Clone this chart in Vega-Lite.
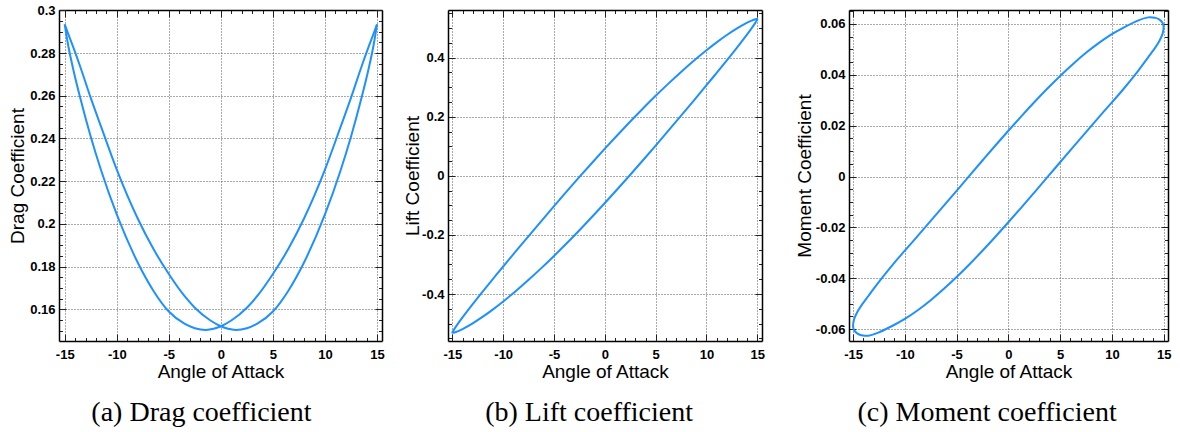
{
  "$schema": "https://vega.github.io/schema/vega-lite/v6.json",
  "background": "white",
  "padding": {"left": 8, "top": 4, "right": 4, "bottom": 4},
  "config": {
    "view": {"stroke": null},
    "font": "Liberation Sans",
    "axis": {
      "labelFont": "Liberation Sans", "labelFontSize": 13, "labelFontWeight": "bold", "labelColor": "black",
      "titleFont": "Liberation Sans", "titleFontSize": 19, "titleFontWeight": "normal", "titleColor": "black",
      "domainColor": "black", "domainWidth": 1.5, "tickColor": "#222", "tickWidth": 1,
      "gridColor": "#555", "gridDash": [1, 2], "gridWidth": 1,
      "labelFlush": false, "labelOverlap": false, "labelBound": false
    },
    "title": {"font": "Liberation Serif", "fontSize": 28, "fontWeight": "normal", "color": "black"}
  },
  "datasets": {
    "drag": [
      {"branch": "A", "i": 0, "aoa": -15.0, "cd": 0.2935},
      {"branch": "A", "i": 1, "aoa": -14.7, "cd": 0.2845},
      {"branch": "A", "i": 2, "aoa": -14.2, "cd": 0.2728},
      {"branch": "A", "i": 3, "aoa": -13.5, "cd": 0.2588},
      {"branch": "A", "i": 4, "aoa": -12.5, "cd": 0.2408},
      {"branch": "A", "i": 5, "aoa": -11.5, "cd": 0.225},
      {"branch": "A", "i": 6, "aoa": -10.0, "cd": 0.2044},
      {"branch": "A", "i": 7, "aoa": -8.0, "cd": 0.182},
      {"branch": "A", "i": 8, "aoa": -6.5, "cd": 0.1688},
      {"branch": "A", "i": 9, "aoa": -5.0, "cd": 0.1589},
      {"branch": "A", "i": 10, "aoa": -3.5, "cd": 0.1532},
      {"branch": "A", "i": 11, "aoa": -2.5, "cd": 0.1511},
      {"branch": "A", "i": 12, "aoa": -1.44, "cd": 0.1503},
      {"branch": "A", "i": 13, "aoa": -0.7, "cd": 0.1508},
      {"branch": "A", "i": 14, "aoa": 0.0, "cd": 0.152},
      {"branch": "A", "i": 15, "aoa": 1.0, "cd": 0.1547},
      {"branch": "A", "i": 16, "aoa": 2.5, "cd": 0.1607},
      {"branch": "A", "i": 17, "aoa": 3.5, "cd": 0.1662},
      {"branch": "A", "i": 18, "aoa": 5.0, "cd": 0.1765},
      {"branch": "A", "i": 19, "aoa": 6.5, "cd": 0.1884},
      {"branch": "A", "i": 20, "aoa": 8.0, "cd": 0.2026},
      {"branch": "A", "i": 21, "aoa": 10.0, "cd": 0.2254},
      {"branch": "A", "i": 22, "aoa": 11.5, "cd": 0.2454},
      {"branch": "A", "i": 23, "aoa": 12.5, "cd": 0.259},
      {"branch": "A", "i": 24, "aoa": 13.5, "cd": 0.2735},
      {"branch": "A", "i": 25, "aoa": 14.2, "cd": 0.283},
      {"branch": "A", "i": 26, "aoa": 14.7, "cd": 0.2895},
      {"branch": "A", "i": 27, "aoa": 15.0, "cd": 0.2935},
      {"branch": "B", "i": 0, "aoa": -15.0, "cd": 0.2935},
      {"branch": "B", "i": 1, "aoa": -14.7, "cd": 0.2895},
      {"branch": "B", "i": 2, "aoa": -14.2, "cd": 0.283},
      {"branch": "B", "i": 3, "aoa": -13.5, "cd": 0.2735},
      {"branch": "B", "i": 4, "aoa": -12.5, "cd": 0.259},
      {"branch": "B", "i": 5, "aoa": -11.5, "cd": 0.2454},
      {"branch": "B", "i": 6, "aoa": -10.0, "cd": 0.2254},
      {"branch": "B", "i": 7, "aoa": -8.0, "cd": 0.2026},
      {"branch": "B", "i": 8, "aoa": -6.5, "cd": 0.1884},
      {"branch": "B", "i": 9, "aoa": -5.0, "cd": 0.1765},
      {"branch": "B", "i": 10, "aoa": -3.5, "cd": 0.1662},
      {"branch": "B", "i": 11, "aoa": -2.5, "cd": 0.1607},
      {"branch": "B", "i": 12, "aoa": -1.0, "cd": 0.1547},
      {"branch": "B", "i": 13, "aoa": 0.0, "cd": 0.152},
      {"branch": "B", "i": 14, "aoa": 0.7, "cd": 0.1508},
      {"branch": "B", "i": 15, "aoa": 1.44, "cd": 0.1503},
      {"branch": "B", "i": 16, "aoa": 2.5, "cd": 0.1511},
      {"branch": "B", "i": 17, "aoa": 3.5, "cd": 0.1532},
      {"branch": "B", "i": 18, "aoa": 5.0, "cd": 0.1589},
      {"branch": "B", "i": 19, "aoa": 6.5, "cd": 0.1688},
      {"branch": "B", "i": 20, "aoa": 8.0, "cd": 0.182},
      {"branch": "B", "i": 21, "aoa": 10.0, "cd": 0.2044},
      {"branch": "B", "i": 22, "aoa": 11.5, "cd": 0.225},
      {"branch": "B", "i": 23, "aoa": 12.5, "cd": 0.2408},
      {"branch": "B", "i": 24, "aoa": 13.5, "cd": 0.2588},
      {"branch": "B", "i": 25, "aoa": 14.2, "cd": 0.2728},
      {"branch": "B", "i": 26, "aoa": 14.7, "cd": 0.2845},
      {"branch": "B", "i": 27, "aoa": 15.0, "cd": 0.2935}
    ],
    "lift": [
      {"i": 0, "aoa": -15.0, "cl": -0.5303},
      {"i": 1, "aoa": -14.95, "cl": -0.5266},
      {"i": 2, "aoa": -14.8, "cl": -0.518},
      {"i": 3, "aoa": -14.5, "cl": -0.5028},
      {"i": 4, "aoa": -14.0, "cl": -0.4792},
      {"i": 5, "aoa": -13.0, "cl": -0.4344},
      {"i": 6, "aoa": -12.0, "cl": -0.3911},
      {"i": 7, "aoa": -11.0, "cl": -0.3487},
      {"i": 8, "aoa": -10.0, "cl": -0.3068},
      {"i": 9, "aoa": -8.75, "cl": -0.2549},
      {"i": 10, "aoa": -7.5, "cl": -0.2037},
      {"i": 11, "aoa": -6.25, "cl": -0.1529},
      {"i": 12, "aoa": -5.0, "cl": -0.1026},
      {"i": 13, "aoa": -3.75, "cl": -0.0528},
      {"i": 14, "aoa": -2.5, "cl": -0.0037},
      {"i": 15, "aoa": -1.25, "cl": 0.0445},
      {"i": 16, "aoa": 0.0, "cl": 0.092},
      {"i": 17, "aoa": 1.25, "cl": 0.1385},
      {"i": 18, "aoa": 2.5, "cl": 0.1839},
      {"i": 19, "aoa": 3.75, "cl": 0.2282},
      {"i": 20, "aoa": 5.0, "cl": 0.271},
      {"i": 21, "aoa": 6.25, "cl": 0.3123},
      {"i": 22, "aoa": 7.5, "cl": 0.3519},
      {"i": 23, "aoa": 8.75, "cl": 0.3897},
      {"i": 24, "aoa": 10.0, "cl": 0.4252},
      {"i": 25, "aoa": 11.0, "cl": 0.4519},
      {"i": 26, "aoa": 12.0, "cl": 0.4767},
      {"i": 27, "aoa": 13.0, "cl": 0.4992},
      {"i": 28, "aoa": 14.0, "cl": 0.5188},
      {"i": 29, "aoa": 14.5, "cl": 0.5266},
      {"i": 30, "aoa": 14.8, "cl": 0.5302},
      {"i": 31, "aoa": 14.95, "cl": 0.5308},
      {"i": 32, "aoa": 15.0, "cl": 0.5303},
      {"i": 33, "aoa": 14.95, "cl": 0.5266},
      {"i": 34, "aoa": 14.8, "cl": 0.518},
      {"i": 35, "aoa": 14.5, "cl": 0.5028},
      {"i": 36, "aoa": 14.0, "cl": 0.4792},
      {"i": 37, "aoa": 13.0, "cl": 0.4344},
      {"i": 38, "aoa": 12.0, "cl": 0.3911},
      {"i": 39, "aoa": 11.0, "cl": 0.3487},
      {"i": 40, "aoa": 10.0, "cl": 0.3068},
      {"i": 41, "aoa": 8.75, "cl": 0.2549},
      {"i": 42, "aoa": 7.5, "cl": 0.2037},
      {"i": 43, "aoa": 6.25, "cl": 0.1529},
      {"i": 44, "aoa": 5.0, "cl": 0.1026},
      {"i": 45, "aoa": 3.75, "cl": 0.0528},
      {"i": 46, "aoa": 2.5, "cl": 0.0037},
      {"i": 47, "aoa": 1.25, "cl": -0.0445},
      {"i": 48, "aoa": 0.0, "cl": -0.092},
      {"i": 49, "aoa": -1.25, "cl": -0.1385},
      {"i": 50, "aoa": -2.5, "cl": -0.1839},
      {"i": 51, "aoa": -3.75, "cl": -0.2282},
      {"i": 52, "aoa": -5.0, "cl": -0.271},
      {"i": 53, "aoa": -6.25, "cl": -0.3123},
      {"i": 54, "aoa": -7.5, "cl": -0.3519},
      {"i": 55, "aoa": -8.75, "cl": -0.3897},
      {"i": 56, "aoa": -10.0, "cl": -0.4252},
      {"i": 57, "aoa": -11.0, "cl": -0.4519},
      {"i": 58, "aoa": -12.0, "cl": -0.4767},
      {"i": 59, "aoa": -13.0, "cl": -0.4992},
      {"i": 60, "aoa": -14.0, "cl": -0.5188},
      {"i": 61, "aoa": -14.5, "cl": -0.5266},
      {"i": 62, "aoa": -14.8, "cl": -0.5302},
      {"i": 63, "aoa": -14.95, "cl": -0.5308}
    ],
    "moment": [
      {"i": 0, "aoa": -15.0, "cm": -0.0587},
      {"i": 1, "aoa": -14.9, "cm": -0.0562},
      {"i": 2, "aoa": -14.6, "cm": -0.0534},
      {"i": 3, "aoa": -14.2, "cm": -0.0508},
      {"i": 4, "aoa": -13.5, "cm": -0.0469},
      {"i": 5, "aoa": -12.5, "cm": -0.0414},
      {"i": 6, "aoa": -11.0, "cm": -0.03383},
      {"i": 7, "aoa": -10.0, "cm": -0.02918},
      {"i": 8, "aoa": -8.75, "cm": -0.02335},
      {"i": 9, "aoa": -7.5, "cm": -0.01748},
      {"i": 10, "aoa": -6.25, "cm": -0.01156},
      {"i": 11, "aoa": -5.0, "cm": -0.00561},
      {"i": 12, "aoa": -3.75, "cm": 0.00036},
      {"i": 13, "aoa": -2.5, "cm": 0.0063},
      {"i": 14, "aoa": -1.25, "cm": 0.0122},
      {"i": 15, "aoa": 0.0, "cm": 0.018},
      {"i": 16, "aoa": 1.25, "cm": 0.02368},
      {"i": 17, "aoa": 2.5, "cm": 0.0292},
      {"i": 18, "aoa": 3.75, "cm": 0.0345},
      {"i": 19, "aoa": 5.0, "cm": 0.03955},
      {"i": 20, "aoa": 6.25, "cm": 0.04428},
      {"i": 21, "aoa": 7.5, "cm": 0.04866},
      {"i": 22, "aoa": 8.75, "cm": 0.05259},
      {"i": 23, "aoa": 10.0, "cm": 0.05602},
      {"i": 24, "aoa": 11.0, "cm": 0.05831},
      {"i": 25, "aoa": 12.5, "cm": 0.0613},
      {"i": 26, "aoa": 13.5, "cm": 0.0626},
      {"i": 27, "aoa": 14.2, "cm": 0.0624},
      {"i": 28, "aoa": 14.6, "cm": 0.0617},
      {"i": 29, "aoa": 14.9, "cm": 0.0604},
      {"i": 30, "aoa": 15.0, "cm": 0.0587},
      {"i": 31, "aoa": 14.9, "cm": 0.0562},
      {"i": 32, "aoa": 14.6, "cm": 0.0534},
      {"i": 33, "aoa": 14.2, "cm": 0.0508},
      {"i": 34, "aoa": 13.5, "cm": 0.0469},
      {"i": 35, "aoa": 12.5, "cm": 0.0414},
      {"i": 36, "aoa": 11.0, "cm": 0.03383},
      {"i": 37, "aoa": 10.0, "cm": 0.02918},
      {"i": 38, "aoa": 8.75, "cm": 0.02335},
      {"i": 39, "aoa": 7.5, "cm": 0.01748},
      {"i": 40, "aoa": 6.25, "cm": 0.01156},
      {"i": 41, "aoa": 5.0, "cm": 0.00561},
      {"i": 42, "aoa": 3.75, "cm": -0.00036},
      {"i": 43, "aoa": 2.5, "cm": -0.0063},
      {"i": 44, "aoa": 1.25, "cm": -0.0122},
      {"i": 45, "aoa": 0.0, "cm": -0.018},
      {"i": 46, "aoa": -1.25, "cm": -0.02368},
      {"i": 47, "aoa": -2.5, "cm": -0.0292},
      {"i": 48, "aoa": -3.75, "cm": -0.0345},
      {"i": 49, "aoa": -5.0, "cm": -0.03955},
      {"i": 50, "aoa": -6.25, "cm": -0.04428},
      {"i": 51, "aoa": -7.5, "cm": -0.04866},
      {"i": 52, "aoa": -8.75, "cm": -0.05259},
      {"i": 53, "aoa": -10.0, "cm": -0.05602},
      {"i": 54, "aoa": -11.0, "cm": -0.05831},
      {"i": 55, "aoa": -12.5, "cm": -0.0613},
      {"i": 56, "aoa": -13.5, "cm": -0.0626},
      {"i": 57, "aoa": -14.2, "cm": -0.0624},
      {"i": 58, "aoa": -14.6, "cm": -0.0617},
      {"i": 59, "aoa": -14.9, "cm": -0.0604}
    ]
  },
  "spacing": 30,
  "hconcat": [
    {
      "spacing": 18,
      "hconcat": [
        {
          "width": 323, "height": 331,
          "title": {"text": "(a) Drag coefficient", "orient": "bottom", "frame": "bounds", "anchor": "middle", "dx": 5, "offset": 17},
          "data": {"name": "drag"},
          "layer": [
            {
              "mark": {"type": "line", "interpolate": "monotone", "color": "#1e90ff", "strokeWidth": 2},
              "encoding": {
                "x": {"field": "aoa", "type": "quantitative", "scale": {"domain": [-15.55, 15.48], "nice": false, "zero": false},
                  "axis": {"orient": "bottom", "title": "Angle of Attack", "titlePadding": -2,
                    "values": [-15,-14,-13,-12,-11,-10,-9,-8,-7,-6,-5,-4,-3,-2,-1,0,1,2,3,4,5,6,7,8,9,10,11,12,13,14,15],
                    "labelExpr": "abs(datum.value % 5) < 0.001 ? replace(format(datum.value, '~g'), '\u2212', '-') : ''",
                    "labelPadding": 14,
                    "tickSize": {"condition": {"test": "abs(datum.value % 5) < 0.001", "value": -7}, "value": -3.5},
                    "grid": true,
                    "gridOpacity": {"condition": {"test": "abs(datum.value % 5) < 0.001", "value": 1}, "value": 0}}},
                "y": {"field": "cd", "type": "quantitative", "scale": {"domain": [0.1451, 0.3002], "nice": false, "zero": false},
                  "axis": {"orient": "left", "title": "Drag Coefficient", "titlePadding": 2,
                    "values": [0.15,0.155,0.16,0.165,0.17,0.175,0.18,0.185,0.19,0.195,0.2,0.205,0.21,0.215,0.22,0.225,0.23,0.235,0.24,0.245,0.25,0.255,0.26,0.265,0.27,0.275,0.28,0.285,0.29,0.295,0.3],
                    "labelExpr": "abs(datum.value/0.02 - round(datum.value/0.02)) < 0.01 ? replace(format(datum.value, '~g'), '\u2212', '-') : ''",
                    "labelPadding": 11,
                    "tickSize": {"condition": {"test": "abs(datum.value/0.02 - round(datum.value/0.02)) < 0.01", "value": -7}, "value": -3.5},
                    "grid": true,
                    "gridOpacity": {"condition": {"test": "abs(datum.value/0.02 - round(datum.value/0.02)) < 0.01", "value": 1}, "value": 0}}},
                "detail": {"field": "branch"},
                "order": {"field": "i", "type": "quantitative"}
              }
            },
            {
              "mark": {"type": "line", "interpolate": "monotone", "strokeOpacity": 0},
              "encoding": {
                "x": {"field": "aoa", "type": "quantitative",
                  "axis": {"orient": "top", "title": null, "labels": false, "grid": false,
                    "values": [-15,-14,-13,-12,-11,-10,-9,-8,-7,-6,-5,-4,-3,-2,-1,0,1,2,3,4,5,6,7,8,9,10,11,12,13,14,15],
                    "tickSize": {"condition": {"test": "abs(datum.value % 5) < 0.001", "value": -7}, "value": -3.5}}},
                "y": {"field": "cd", "type": "quantitative",
                  "axis": {"orient": "right", "title": null, "labels": false, "grid": false,
                    "values": [0.15,0.155,0.16,0.165,0.17,0.175,0.18,0.185,0.19,0.195,0.2,0.205,0.21,0.215,0.22,0.225,0.23,0.235,0.24,0.245,0.25,0.255,0.26,0.265,0.27,0.275,0.28,0.285,0.29,0.295,0.3],
                    "tickSize": {"condition": {"test": "abs(datum.value/0.02 - round(datum.value/0.02)) < 0.01", "value": -7}, "value": -3.5}}},
                "detail": {"field": "branch"},
                "order": {"field": "i", "type": "quantitative"}
              }
            }
          ],
          "resolve": {"axis": {"x": "independent", "y": "independent"}}
        },
        {
          "width": 314, "height": 331,
          "title": {"text": "(b) Lift coefficient", "orient": "bottom", "frame": "bounds", "anchor": "middle", "dx": 5, "offset": 17},
          "data": {"name": "lift"},
          "layer": [
            {
              "mark": {"type": "line", "interpolate": "cardinal-closed", "color": "#1e90ff", "strokeWidth": 2},
              "encoding": {
                "x": {"field": "aoa", "type": "quantitative", "scale": {"domain": [-15.43, 15.46], "nice": false, "zero": false},
                  "axis": {"orient": "bottom", "title": "Angle of Attack", "titlePadding": -2,
                    "values": [-15,-14,-13,-12,-11,-10,-9,-8,-7,-6,-5,-4,-3,-2,-1,0,1,2,3,4,5,6,7,8,9,10,11,12,13,14,15],
                    "labelExpr": "abs(datum.value % 5) < 0.001 ? replace(format(datum.value, '~g'), '\u2212', '-') : ''",
                    "labelPadding": 14,
                    "tickSize": {"condition": {"test": "abs(datum.value % 5) < 0.001", "value": -7}, "value": -3.5},
                    "grid": true,
                    "gridOpacity": {"condition": {"test": "abs(datum.value % 5) < 0.001", "value": 1}, "value": 0}}},
                "y": {"field": "cl", "type": "quantitative", "scale": {"domain": [-0.559, 0.5615], "nice": false, "zero": false},
                  "axis": {"orient": "left", "title": "Lift Coefficient", "titlePadding": -1,
                    "values": [-0.55,-0.5,-0.45,-0.4,-0.35,-0.3,-0.25,-0.2,-0.15,-0.1,-0.05,0,0.05,0.1,0.15,0.2,0.25,0.3,0.35,0.4,0.45,0.5,0.55],
                    "labelExpr": "abs(datum.value/0.2 - round(datum.value/0.2)) < 0.01 ? replace(format(datum.value, '~g'), '\u2212', '-') : ''",
                    "labelPadding": 11,
                    "tickSize": {"condition": {"test": "abs(datum.value/0.2 - round(datum.value/0.2)) < 0.01", "value": -7}, "value": -3.5},
                    "grid": true,
                    "gridOpacity": {"condition": {"test": "abs(datum.value/0.2 - round(datum.value/0.2)) < 0.01", "value": 1}, "value": 0}}},
                "order": {"field": "i", "type": "quantitative"}
              }
            },
            {
              "mark": {"type": "line", "strokeOpacity": 0},
              "encoding": {
                "x": {"field": "aoa", "type": "quantitative",
                  "axis": {"orient": "top", "title": null, "labels": false, "grid": false,
                    "values": [-15,-14,-13,-12,-11,-10,-9,-8,-7,-6,-5,-4,-3,-2,-1,0,1,2,3,4,5,6,7,8,9,10,11,12,13,14,15],
                    "tickSize": {"condition": {"test": "abs(datum.value % 5) < 0.001", "value": -7}, "value": -3.5}}},
                "y": {"field": "cl", "type": "quantitative",
                  "axis": {"orient": "right", "title": null, "labels": false, "grid": false,
                    "values": [-0.55,-0.5,-0.45,-0.4,-0.35,-0.3,-0.25,-0.2,-0.15,-0.1,-0.05,0,0.05,0.1,0.15,0.2,0.25,0.3,0.35,0.4,0.45,0.5,0.55],
                    "tickSize": {"condition": {"test": "abs(datum.value/0.2 - round(datum.value/0.2)) < 0.01", "value": -7}, "value": -3.5}}},
                "order": {"field": "i", "type": "quantitative"}
              }
            }
          ],
          "resolve": {"axis": {"x": "independent", "y": "independent"}}
        }
      ]
    },
    {
      "width": 319, "height": 331,
      "title": {"text": "(c) Moment coefficient", "orient": "bottom", "frame": "bounds", "anchor": "middle", "dx": 4, "offset": 17},
      "data": {"name": "moment"},
      "layer": [
        {
          "mark": {"type": "line", "interpolate": "cardinal-closed", "color": "#1e90ff", "strokeWidth": 2},
          "encoding": {
            "x": {"field": "aoa", "type": "quantitative", "scale": {"domain": [-15.39, 15.42], "nice": false, "zero": false},
              "axis": {"orient": "bottom", "title": "Angle of Attack", "titlePadding": -2,
                "values": [-15,-14,-13,-12,-11,-10,-9,-8,-7,-6,-5,-4,-3,-2,-1,0,1,2,3,4,5,6,7,8,9,10,11,12,13,14,15],
                "labelExpr": "abs(datum.value % 5) < 0.001 ? replace(format(datum.value, '~g'), '\u2212', '-') : ''",
                "labelPadding": 14,
                "tickSize": {"condition": {"test": "abs(datum.value % 5) < 0.001", "value": -7}, "value": -3.5},
                "grid": true,
                "gridOpacity": {"condition": {"test": "abs(datum.value % 5) < 0.001", "value": 1}, "value": 0}}},
            "y": {"field": "cm", "type": "quantitative", "scale": {"domain": [-0.0647, 0.0655], "nice": false, "zero": false},
              "axis": {"orient": "left", "title": "Moment Coefficient", "titlePadding": 1,
                "values": [-0.06,-0.055,-0.05,-0.045,-0.04,-0.035,-0.03,-0.025,-0.02,-0.015,-0.01,-0.005,0,0.005,0.01,0.015,0.02,0.025,0.03,0.035,0.04,0.045,0.05,0.055,0.06,0.065],
                "labelExpr": "abs(datum.value/0.02 - round(datum.value/0.02)) < 0.01 ? replace(format(datum.value, '~g'), '\u2212', '-') : ''",
                "labelPadding": 11,
                "tickSize": {"condition": {"test": "abs(datum.value/0.02 - round(datum.value/0.02)) < 0.01", "value": -7}, "value": -3.5},
                "grid": true,
                "gridOpacity": {"condition": {"test": "abs(datum.value/0.02 - round(datum.value/0.02)) < 0.01", "value": 1}, "value": 0}}},
            "order": {"field": "i", "type": "quantitative"}
          }
        },
        {
          "mark": {"type": "line", "strokeOpacity": 0},
          "encoding": {
            "x": {"field": "aoa", "type": "quantitative",
              "axis": {"orient": "top", "title": null, "labels": false, "grid": false,
                "values": [-15,-14,-13,-12,-11,-10,-9,-8,-7,-6,-5,-4,-3,-2,-1,0,1,2,3,4,5,6,7,8,9,10,11,12,13,14,15],
                "tickSize": {"condition": {"test": "abs(datum.value % 5) < 0.001", "value": -7}, "value": -3.5}}},
            "y": {"field": "cm", "type": "quantitative",
              "axis": {"orient": "right", "title": null, "labels": false, "grid": false,
                "values": [-0.06,-0.055,-0.05,-0.045,-0.04,-0.035,-0.03,-0.025,-0.02,-0.015,-0.01,-0.005,0,0.005,0.01,0.015,0.02,0.025,0.03,0.035,0.04,0.045,0.05,0.055,0.06,0.065],
                "tickSize": {"condition": {"test": "abs(datum.value/0.02 - round(datum.value/0.02)) < 0.01", "value": -7}, "value": -3.5}}},
            "order": {"field": "i", "type": "quantitative"}
          }
        }
      ],
      "resolve": {"axis": {"x": "independent", "y": "independent"}}
    }
  ]
}
